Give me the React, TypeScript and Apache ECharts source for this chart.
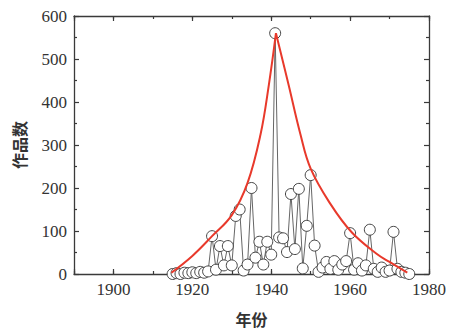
import React, { useEffect, useRef } from "react";
import * as echarts from "echarts";

const years = [
  1915, 1916, 1917, 1918, 1919, 1920, 1921, 1922, 1923, 1924,
  1925, 1926, 1927, 1928, 1929, 1930, 1931, 1932, 1933, 1934,
  1935, 1936, 1937, 1938, 1939, 1940, 1941, 1942, 1943, 1944,
  1945, 1946, 1947, 1948, 1949, 1950, 1951, 1952, 1953, 1954,
  1955, 1956, 1957, 1958, 1959, 1960, 1961, 1962, 1963, 1964,
  1965, 1966, 1967, 1968, 1969, 1970, 1971, 1972, 1973, 1974, 1975,
];
const counts = [
  0, 2, 0, 3, 2, 4, 2, 5, 3, 6,
  88, 10, 65, 20, 65, 20, 135, 150, 8, 22,
  200, 38, 75, 22, 75, 45, 560, 85, 83, 51,
  186, 58, 198, 13, 112, 230, 66, 5, 15, 28,
  12, 30, 10, 22, 30, 95, 10, 25, 8, 20,
  103, 12, 5, 15, 5, 8, 98, 12, 5, 3, 0,
];

const fitLeftYears = [1914.7, 1920, 1925, 1930, 1934, 1937.3, 1939.4, 1941.2];
const fitLeftValues = [3, 42, 88, 137, 212, 325, 440, 560];
const fitRightYears = [1941.2, 1944.4, 1947.4, 1950, 1955, 1960.4, 1966.7, 1970, 1974.5];
const fitRightValues = [560, 440, 325, 245, 163, 97, 47, 28, 3];

const xMin = 1890;
const xMax = 1980;
const yTicks = [0, 100, 200, 300, 400, 500, 600];
const xLabelYears = [1900, 1920, 1940, 1960, 1980];

const frameColor = "#3a3a3a";
const labelFont = "'Liberation Serif', 'DejaVu Serif', serif";
const cjkFont = "'Noto Sans CJK SC', sans-serif";

export default function App() {
  const ref = useRef<HTMLDivElement>(null);
  useEffect(() => {
    if (!ref.current) return;
    const chart = echarts.init(ref.current, undefined, { renderer: "svg" });
    const baseX = (pos: string, long: boolean, labels: boolean, name?: string) => ({
      type: "value",
      position: pos,
      min: xMin,
      max: xMax,
      ...(long ? {} : { interval: 10 }),
      splitLine: { show: false },
      axisLine: { show: !long, lineStyle: { color: frameColor, width: 1.3 } },
      axisTick: {
        show: true,
        inside: true,
        length: long ? 5 : 3,
        lineStyle: { color: frameColor, width: 1.2 },
      },
      axisLabel: labels
        ? {
            show: true,
            margin: 7,
            color: "#333",
            fontFamily: labelFont,
            fontSize: 17,
            formatter: (v: number) => (xLabelYears.includes(v) ? String(v) : ""),
          }
        : { show: false },
      ...(name
        ? {
            name,
            nameLocation: "middle",
            nameGap: 37,
            nameTextStyle: {
              fontFamily: cjkFont,
              fontWeight: "bold",
              fontSize: 16,
              color: "#333",
            },
          }
        : {}),
    });
    const baseY = (pos: string, labels: boolean, name?: string) => ({
      type: "value",
      position: pos,
      min: yTicks[0],
      max: yTicks[yTicks.length - 1],
      interval: 100,
      splitLine: { show: false },
      axisLine: { show: true, lineStyle: { color: frameColor, width: 1.3 } },
      axisTick: { show: true, inside: true, length: 5, lineStyle: { color: frameColor, width: 1.2 } },
      minorTick: { show: true, splitNumber: 2, length: 3, lineStyle: { color: frameColor, width: 1.2 } },
      axisLabel: labels
        ? { show: true, margin: 7, color: "#333", fontFamily: labelFont, fontSize: 17 }
        : { show: false },
      ...(name
        ? {
            name,
            nameLocation: "middle",
            nameGap: 47,
            nameTextStyle: {
              fontFamily: cjkFont,
              fontWeight: "bold",
              fontSize: 16,
              color: "#333",
            },
          }
        : {}),
    });
    chart.setOption({
      animation: false,
      backgroundColor: "#ffffff",
      grid: { left: 74, right: 18, top: 16, bottom: 53 },
      xAxis: [
        baseX("bottom", false, true, "年份"),
        baseX("bottom", true, false),
        baseX("top", false, false),
        baseX("top", true, false),
      ],
      yAxis: [baseY("left", true, "作品数"), baseY("right", false)],
      series: [
        {
          type: "line",
          xAxisIndex: 0,
          yAxisIndex: 0,
          data: years.map((y, i) => [y, counts[i]]),
          symbol: "circle",
          symbolSize: 11,
          showSymbol: true,
          itemStyle: { color: "#ffffff", borderColor: "#444", borderWidth: 1 },
          lineStyle: { color: "#666", width: 1 },
          z: 2,
        },
        {
          type: "line",
          xAxisIndex: 0,
          yAxisIndex: 0,
          data: fitLeftYears.map((y, i) => [y, fitLeftValues[i]]),
          symbol: "none",
          smooth: 0.4,
          lineStyle: { color: "#e8392b", width: 2 },
          z: 3,
        },
        {
          type: "line",
          xAxisIndex: 0,
          yAxisIndex: 0,
          data: fitRightYears.map((y, i) => [y, fitRightValues[i]]),
          symbol: "none",
          smooth: 0.4,
          lineStyle: { color: "#e8392b", width: 2 },
          z: 3,
        },
      ],
    });
    return () => chart.dispose();
  }, []);
  return (
    <div
      ref={ref}
      style={{ position: "fixed", left: 0, top: 0, width: 449, height: 332, background: "#fff" }}
    />
  );
}
